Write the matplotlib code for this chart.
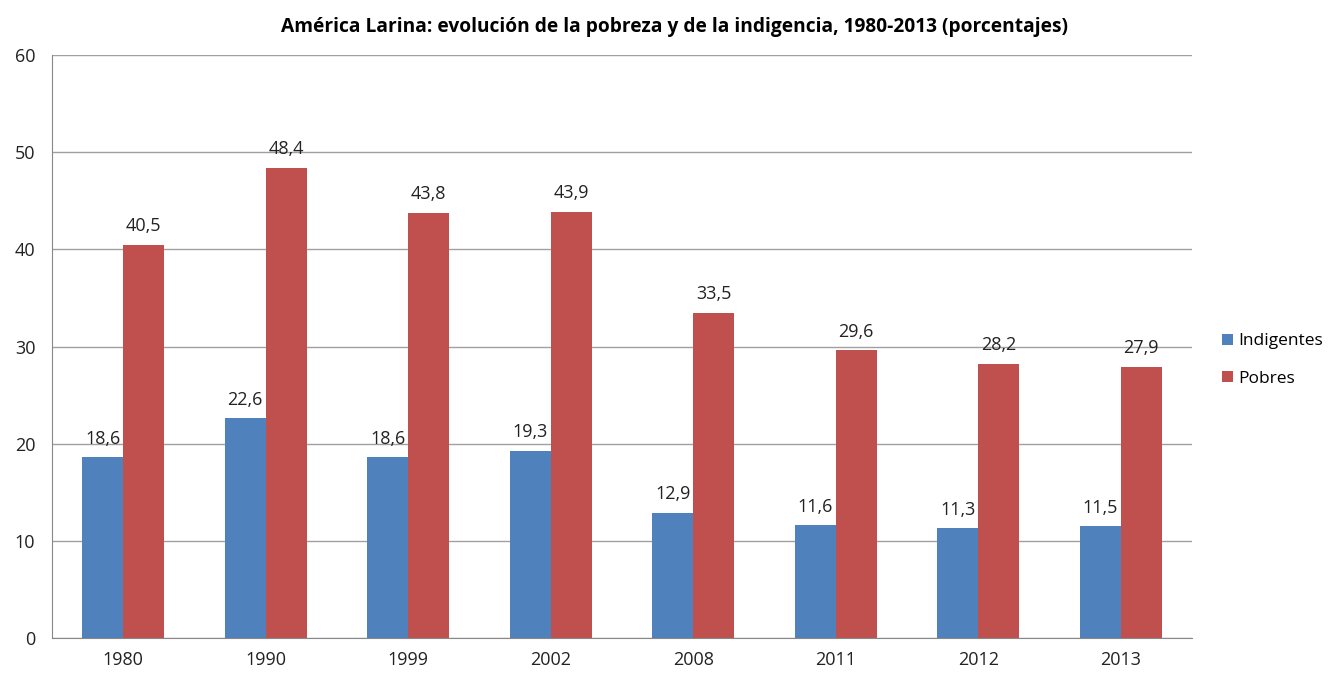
import numpy as np
import matplotlib
matplotlib.use("Agg")
import matplotlib.pyplot as plt

years = ['1980', '1990', '1999', '2002', '2008', '2011', '2012', '2013']
indigentes = [18.6, 22.6, 18.6, 19.3, 12.9, 11.6, 11.3, 11.5]
pobres = [40.5, 48.4, 43.8, 43.9, 33.5, 29.6, 28.2, 27.9]

blue = '#4F81BD'
red = '#C0504D'

plt.rcParams['font.family'] = ['Open Sans', 'DejaVu Sans']

fig = plt.figure(figsize=(13.34, 6.73), dpi=100)
ax = fig.add_axes([0.039, 0.052, 0.8546, 0.866])

x = np.arange(len(years))
w = 0.2875
b1 = ax.bar(x - w/2, indigentes, w, color=blue, label='Indigentes')
b2 = ax.bar(x + w/2, pobres, w, color=red, label='Pobres')

for bars, vals in ((b1, indigentes), (b2, pobres)):
    for rect, v in zip(bars, vals):
        ax.annotate(f'{v:.1f}'.replace('.', ','),
                    (rect.get_x() + rect.get_width()/2, v),
                    xytext=(0, 7), textcoords='offset points',
                    ha='center', va='bottom', fontsize=13, color='#222222')

ax.set_xlim(-0.5, len(years) - 0.5)
ax.set_ylim(0, 60)
ax.set_yticks(range(0, 61, 10))
ax.set_xticks(x)
ax.set_xticklabels(years)
ax.yaxis.grid(True, color='#A0A0A0', linewidth=1)
ax.set_axisbelow(True)
ax.tick_params(axis='both', length=0, labelsize=13, colors='#222222')
ax.tick_params(axis='y', pad=12)
ax.tick_params(axis='x', pad=9)
for s in ('top', 'right'):
    ax.spines[s].set_visible(False)
for s in ('left', 'bottom'):
    ax.spines[s].set_color('#888888')

ax.set_title('América Larina: evolución de la pobreza y de la indigencia, 1980-2013 (porcentajes)',
             fontsize=13.8, fontweight='bold', pad=17, x=0.546)

fig.legend(loc='center left', bbox_to_anchor=(0.911, 0.465), frameon=False,
           fontsize=12.5, handlelength=0.6, handleheight=0.6, handletextpad=0.35,
           labelspacing=1.25, borderpad=0.2, borderaxespad=0.2)

fig.savefig('out.png', dpi=100)
